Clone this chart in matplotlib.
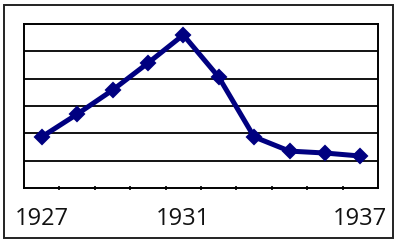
import matplotlib
matplotlib.use("Agg")
import matplotlib.pyplot as plt
from matplotlib.patches import Rectangle

# values (grid units, 0 at bottom axis)
years = [1927, 1928, 1929, 1930, 1931, 1932, 1933, 1934, 1935, 1936]
values = [1.87, 2.70, 3.58, 4.57, 5.60, 4.06, 1.87, 1.35, 1.28, 1.17]
tick_labels = {0: "1927", 4: "1931", 9: "1937"}

fig = plt.figure(figsize=(4.01, 2.43), dpi=100)
W, H = 401, 243

# outer frame
fig.patches.append(Rectangle((4 / W, 5 / H), 389 / W, 233 / H, transform=fig.transFigure,
                             fill=False, edgecolor="#222222", linewidth=1.4))

ax = fig.add_axes([24 / W, (H - 188) / H, (378 - 24) / W, (188 - 24) / H])
x = list(range(len(years)))
ax.plot(x, values, color="#000080", linewidth=3.6, marker="D", markersize=7,
        markeredgewidth=1.5, markeredgecolor="#000080", markerfacecolor="#000080",
        zorder=3)

ax.set_xlim(-0.5, len(years) - 0.5)
ax.set_ylim(0, 6)
for yv in range(1, 6):
    ax.axhline(yv, color="black", linewidth=1.3, zorder=1)

for s in ax.spines.values():
    s.set_linewidth(1.4)
    s.set_color("black")

ax.set_yticks([])
# small category boundary ticks on the bottom axis
ax.set_xticks([])
ax.set_xticks([i + 0.5 for i in range(len(years) - 1)], minor=True)
ax.tick_params(axis="x", which="minor", length=3, width=1.2, direction="inout")

for i, lab in tick_labels.items():
    ax.text(i, -1.12, lab, ha="center", va="center", fontsize=17,
            family="Open Sans", color="#111111", transform=ax.transData)

fig.savefig("out.png", dpi=100)
